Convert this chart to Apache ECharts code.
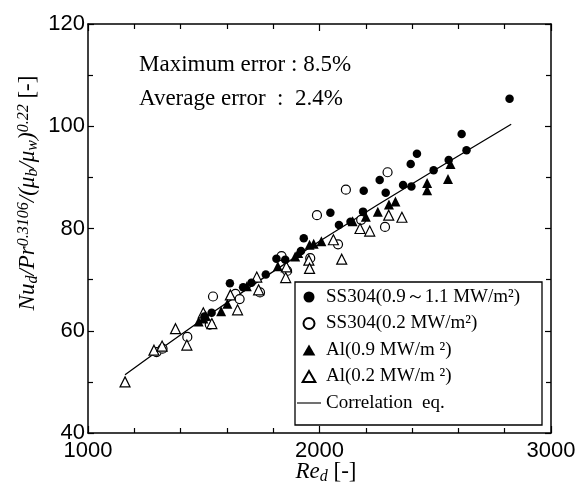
<!DOCTYPE html>
<html><head><meta charset="utf-8">
<script src="https://cdn.jsdelivr.net/npm/echarts@6/dist/echarts.min.js"></script>
<style>html,body{margin:0;padding:0;background:#fff}#c{width:579px;height:484px}</style>
</head><body><div id="c"></div>
<script>
// ---- data ----
const xTickLabels = [1000, 2000, 3000];
const yTickLabels = [40, 60, 80, 100, 120];
const seriesNames = ['SS304(0.9～1.1 MW/m²)', 'SS304(0.2 MW/m²)', 'Al(0.9 MW/m ²)', 'Al(0.2 MW/m ²)', 'Correlation  eq.'];

const ssHigh = [[1503,62.8],[1534,63.5],[1613,69.3],[1670,68.5],[1706,69.4],[1768,71.0],[1814,74.1],[1852,73.9],
  [1920,75.6],[1932,78.1],[2047,83.1],[2084,80.7],[2134,81.3],[2188,83.3],[2191,87.4],[2260,89.5],[2286,87.0],
  [2361,88.5],[2397,88.2],[2394,92.6],[2421,94.6],[2493,91.4],[2558,93.4],[2614,98.5],[2635,95.3],[2821,105.4]];
const ssLow = [[1296,55.8],[1322,56.5],[1429,58.8],[1526,61.2],[1540,66.7],[1637,67.2],[1655,66.2],[1743,67.5],
  [1836,74.6],[1860,71.7],[1960,74.2],[2080,76.9],[1989,82.6],[2114,87.6],[2294,91.0],[2283,80.3],[2180,81.7]];
const alHigh = [[1478,61.8],[1498,62.4],[1508,63.0],[1575,63.8],[1602,65.3],[1686,68.7],[1820,72.6],[1895,74.5],
  [1908,75.2],[1957,76.8],[1975,77.0],[2008,77.5],[2143,81.4],[2200,82.3],[2252,83.3],[2300,84.7],[2328,85.3],
  [2465,88.9],[2465,87.5],[2555,89.7],[2566,92.6]];
const alLow = [[1160,50.0],[1285,56.2],[1320,57.0],[1378,60.4],[1427,57.2],[1498,63.5],[1535,61.4],[1615,67.0],
  [1646,64.1],[1729,70.5],[1737,68.0],[1854,70.4],[1857,72.5],[1954,73.8],[1957,72.2],[2060,77.8],[2096,74.0],
  [2175,80.0],[2217,79.5],[2299,82.6],[2356,82.2]];
const correlation = [[1160,51.4],[1300,56.0],[1500,62.4],[1750,70.1],[2000,77.5],[2250,84.6],[2500,91.5],[2828,100.4]];

// ---- chart ----
const serif = "'Liberation Serif','Times New Roman',serif";
const sans = "'Liberation Sans',Arial,sans-serif";
const chart = echarts.init(document.getElementById('c'));

function xAx(pos, showLabel) {
  return {
    type: 'value', position: pos, min: 1000, max: 3000, interval: 1000,
    axisLine: { show: true, onZero: false, lineStyle: { color: '#000', width: 1.5 } },
    axisTick: { show: true, inside: true, length: 7, lineStyle: { color: '#000', width: 1.2 } },
    minorTick: { show: true, splitNumber: 5, length: 5, lineStyle: { color: '#000', width: 1.2 } },
    splitLine: { show: false }, minorSplitLine: { show: false },
    axisLabel: {
      show: showLabel, margin: 7, showMinLabel: true, showMaxLabel: true, hideOverlap: false,
      color: '#000', fontFamily: sans, fontSize: 22,
      formatter: v => xTickLabels.includes(v) ? String(v) : ''
    }
  };
}
function yAx(pos, showLabel) {
  return {
    type: 'value', position: pos, min: 40, max: 120, interval: 20,
    axisLine: { show: true, onZero: false, lineStyle: { color: '#000', width: 1.5 } },
    axisTick: { show: true, inside: true, length: 6, lineStyle: { color: '#000', width: 1.2 } },
    minorTick: { show: true, splitNumber: 2, length: 5, lineStyle: { color: '#000', width: 1.2 } },
    splitLine: { show: false }, minorSplitLine: { show: false },
    axisLabel: {
      show: showLabel, margin: 3, showMinLabel: true, showMaxLabel: true, hideOverlap: false,
      color: '#000', fontFamily: sans, fontSize: 22,
      formatter: v => yTickLabels.includes(v) ? String(v) : ''
    }
  };
}

const openStyle = { color: '#fff', borderColor: '#000', borderWidth: 1.2, opacity: 1 };
const fillStyle = { color: '#000', opacity: 1 };
const triPath = 'path://M6,0L12,10.4L0,10.4Z';

const richName = {
  i: { fontFamily: serif, fontStyle: 'italic', fontSize: 23, lineHeight: 23, verticalAlign: 'middle', color: '#000' },
  n: { fontFamily: serif, fontSize: 23, lineHeight: 23, verticalAlign: 'middle', color: '#000' },
  sup: { fontFamily: serif, fontStyle: 'italic', fontSize: 16, lineHeight: 16, verticalAlign: 'top', color: '#000' },
  sub: { fontFamily: serif, fontStyle: 'italic', fontSize: 16, lineHeight: 25, verticalAlign: 'bottom', color: '#000' }
};

chart.setOption({
  animation: false,
  backgroundColor: '#fff',
  grid: { left: 88, right: 28, top: 24, bottom: 51 },
  xAxis: [xAx('bottom', true), xAx('top', false)],
  yAxis: [yAx('left', true), yAx('right', false)],
  legend: {
    orient: 'vertical', left: 297, top: 287, padding: 0,
    itemWidth: 24, itemHeight: 11, itemGap: 6.5, symbolKeepAspect: true,
    textStyle: { fontFamily: serif, fontSize: 19, color: '#000', lineHeight: 20 },
    data: [
      { name: seriesNames[0], icon: 'circle' },
      { name: seriesNames[1], icon: 'circle' },
      { name: seriesNames[2], icon: triPath },
      { name: seriesNames[3], icon: triPath },
      { name: seriesNames[4], icon: 'path://M0,0h30v1.4h-30z' }
    ]
  },
  graphic: [
    { type: 'rect', shape: { x: 295, y: 282, width: 247, height: 143 },
      style: { fill: 'none', stroke: '#000', lineWidth: 1.3 }, z: 10 },
    { type: 'text', x: 139, y: 65, style: { text: 'Maximum error : 8.5%', fontFamily: serif, fontSize: 23, fill: '#000', align: 'left', verticalAlign: 'middle', textAlign: 'left', textVerticalAlign: 'middle' } },
    { type: 'text', x: 139, y: 99, style: { text: 'Average error  :  2.4%', fontFamily: serif, fontSize: 23, fill: '#000', align: 'left', verticalAlign: 'middle', textAlign: 'left', textVerticalAlign: 'middle' } },
    { type: 'text', x: 28, y: 193, rotation: Math.PI / 2,
      style: { text: '{i|Nu}{sub|d}{i|/Pr}{sup|0.3106}{i|/(μ}{sub|b}{i|/μ}{sub|w}{i|)}{sup|0.22}{n| [-]}', rich: richName,
        align: 'center', verticalAlign: 'middle', textAlign: 'center', textVerticalAlign: 'middle' } },
    { type: 'text', x: 326, y: 472,
      style: { text: '{i|Re}{sub|d}{n| [-]}', rich: richName,
        align: 'center', verticalAlign: 'middle', textAlign: 'center', textVerticalAlign: 'middle' } }
  ],
  series: [
    { name: seriesNames[0], type: 'scatter', symbol: 'circle', symbolSize: 8.5, itemStyle: fillStyle, data: ssHigh, z: 3 },
    { name: seriesNames[1], type: 'scatter', symbol: 'circle', symbolSize: 9, itemStyle: openStyle, data: ssLow, z: 2 },
    { name: seriesNames[2], type: 'scatter', symbol: 'triangle', symbolSize: 10, itemStyle: fillStyle, data: alHigh, z: 3 },
    { name: seriesNames[3], type: 'scatter', symbol: 'triangle', symbolSize: 10, itemStyle: openStyle, data: alLow, z: 2 },
    { name: seriesNames[4], type: 'line', symbol: 'none', showSymbol: false, smooth: false,
      lineStyle: { color: '#000', width: 1.3 }, itemStyle: { color: '#000', opacity: 1 }, data: correlation, z: 1 }
  ]
});
</script></body></html>
